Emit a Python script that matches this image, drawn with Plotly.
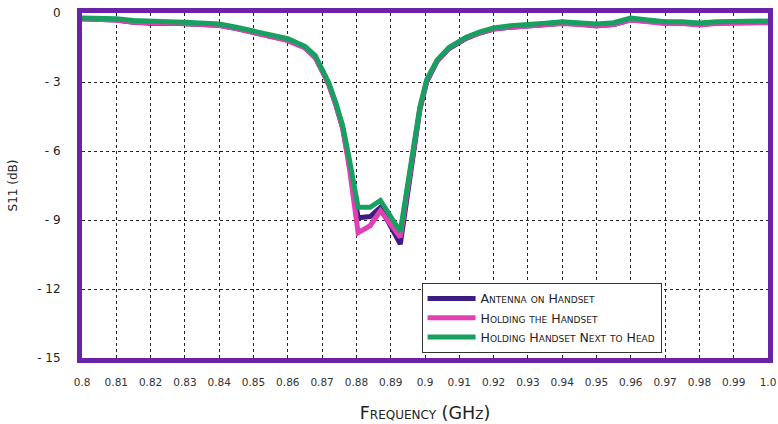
import plotly.graph_objects as go

freq = [0.800, 0.805, 0.810, 0.815, 0.820, 0.825, 0.830, 0.835, 0.840, 0.845,
        0.850, 0.855, 0.860, 0.865, 0.868, 0.870, 0.872, 0.874, 0.876, 0.878,
        0.8805, 0.884, 0.887, 0.8928, 0.8956, 0.8985, 0.9005, 0.9035, 0.907,
        0.912, 0.916, 0.920, 0.925, 0.930, 0.935, 0.940, 0.945, 0.950, 0.955,
        0.960, 0.965, 0.970, 0.975, 0.980, 0.985, 0.990, 0.995, 1.000]

antenna = [-0.25, -0.25, -0.30, -0.40, -0.45, -0.43, -0.45, -0.50, -0.53, -0.68,
           -0.86, -1.00, -1.18, -1.50, -1.92, -2.50, -3.12, -3.98, -5.00, -6.60,
           -8.90, -8.85, -8.45, -10.05, -7.00, -4.20, -3.00, -2.10, -1.55,
           -1.10, -0.87, -0.70, -0.62, -0.58, -0.52, -0.45, -0.48, -0.55, -0.50,
           -0.30, -0.36, -0.44, -0.44, -0.50, -0.44, -0.44, -0.42, -0.40]

holding = [-0.26, -0.26, -0.30, -0.40, -0.44, -0.44, -0.46, -0.50, -0.54, -0.68,
           -0.87, -1.02, -1.20, -1.52, -1.95, -2.52, -3.15, -4.00, -5.00, -6.80,
           -9.55, -9.25, -8.60, -9.75, -6.90, -4.15, -2.95, -2.08, -1.52,
           -1.08, -0.86, -0.70, -0.62, -0.58, -0.53, -0.46, -0.50, -0.56, -0.50,
           -0.30, -0.38, -0.46, -0.46, -0.52, -0.46, -0.46, -0.44, -0.42]

head = [-0.22, -0.22, -0.25, -0.33, -0.38, -0.38, -0.40, -0.45, -0.48, -0.62,
        -0.80, -0.95, -1.12, -1.45, -1.85, -2.45, -3.05, -3.90, -4.90, -6.40,
        -8.45, -8.45, -8.15, -9.50, -6.80, -4.10, -2.90, -2.05, -1.50,
        -1.05, -0.82, -0.65, -0.55, -0.52, -0.45, -0.38, -0.42, -0.48, -0.42,
        -0.22, -0.30, -0.38, -0.38, -0.43, -0.38, -0.38, -0.36, -0.35]

x_ticks = [0.80, 0.81, 0.82, 0.83, 0.84, 0.85, 0.86, 0.87, 0.88, 0.89, 0.90,
           0.91, 0.92, 0.93, 0.94, 0.95, 0.96, 0.97, 0.98, 0.99, 1.00]
x_labels = ["0.8", "0.81", "0.82", "0.83", "0.84", "0.85", "0.86", "0.87", "0.88",
            "0.89", "0.9", "0.91", "0.92", "0.93", "0.94", "0.95", "0.96", "0.97",
            "0.98", "0.99", "1.0"]
y_ticks = [0, -3, -6, -9, -12, -15]
y_labels = ["0", "- 3", "- 6", "- 9", "- 12", "- 15"]

names = ["Antenna on Handset", "Holding the Handset", "Holding Handset Next to Head"]
colors = ["#3b1c80", "#e23fb4", "#17a060"]

fig = go.Figure()
for vals, name, col in zip([antenna, holding, head], names, colors):
    fig.add_trace(go.Scatter(x=freq, y=vals, mode="lines", name=name,
                             line=dict(color=col, width=5)))

font_main = "DejaVu Sans"
fig.update_layout(
    width=778, height=424,
    margin=dict(l=82, r=10, t=13, b=66, autoexpand=False),
    paper_bgcolor="white", plot_bgcolor="white",
    showlegend=True,
    legend=dict(x=0.495, y=0.015, xanchor="left", yanchor="bottom",
                bgcolor="white", bordercolor="#333", borderwidth=1,
                itemwidth=48,
                font=dict(family=font_main, size=12.5, color="#222", variant="small-caps"),
                tracegroupgap=0),
    xaxis=dict(range=[0.8, 1.0], tickvals=x_ticks, ticktext=x_labels,
               showgrid=True, gridcolor="#222", griddash="dot", gridwidth=1.3,
               showline=True, linecolor="#6a22a8", linewidth=5, mirror=True,
               ticks="", zeroline=False, automargin=False, ticklabelstandoff=10,
               ticklabeloverflow="allow",
               tickfont=dict(family=font_main, size=10.5, color="#333"),
               title=dict(text="Frequency (GHz)", standoff=22,
                          font=dict(family=font_main, size=17.5, color="#222",
                                    variant="small-caps"))),
    yaxis=dict(range=[-15, 0], tickvals=y_ticks, ticktext=y_labels,
               showgrid=True, gridcolor="#222", griddash="dot", gridwidth=1.3,
               showline=True, linecolor="#6a22a8", linewidth=5, mirror=True,
               ticks="", zeroline=False, automargin=False, ticklabelstandoff=14,
               ticklabeloverflow="allow",
               tickfont=dict(family=font_main, size=12, color="#222"),
               title=dict(text="S11 (dB)", standoff=18,
                          font=dict(family=font_main, size=12, color="#222"))),
)

fig.write_html("out.html", config={"displayModeBar": False},
               post_script="document.body.style.margin='0';")
